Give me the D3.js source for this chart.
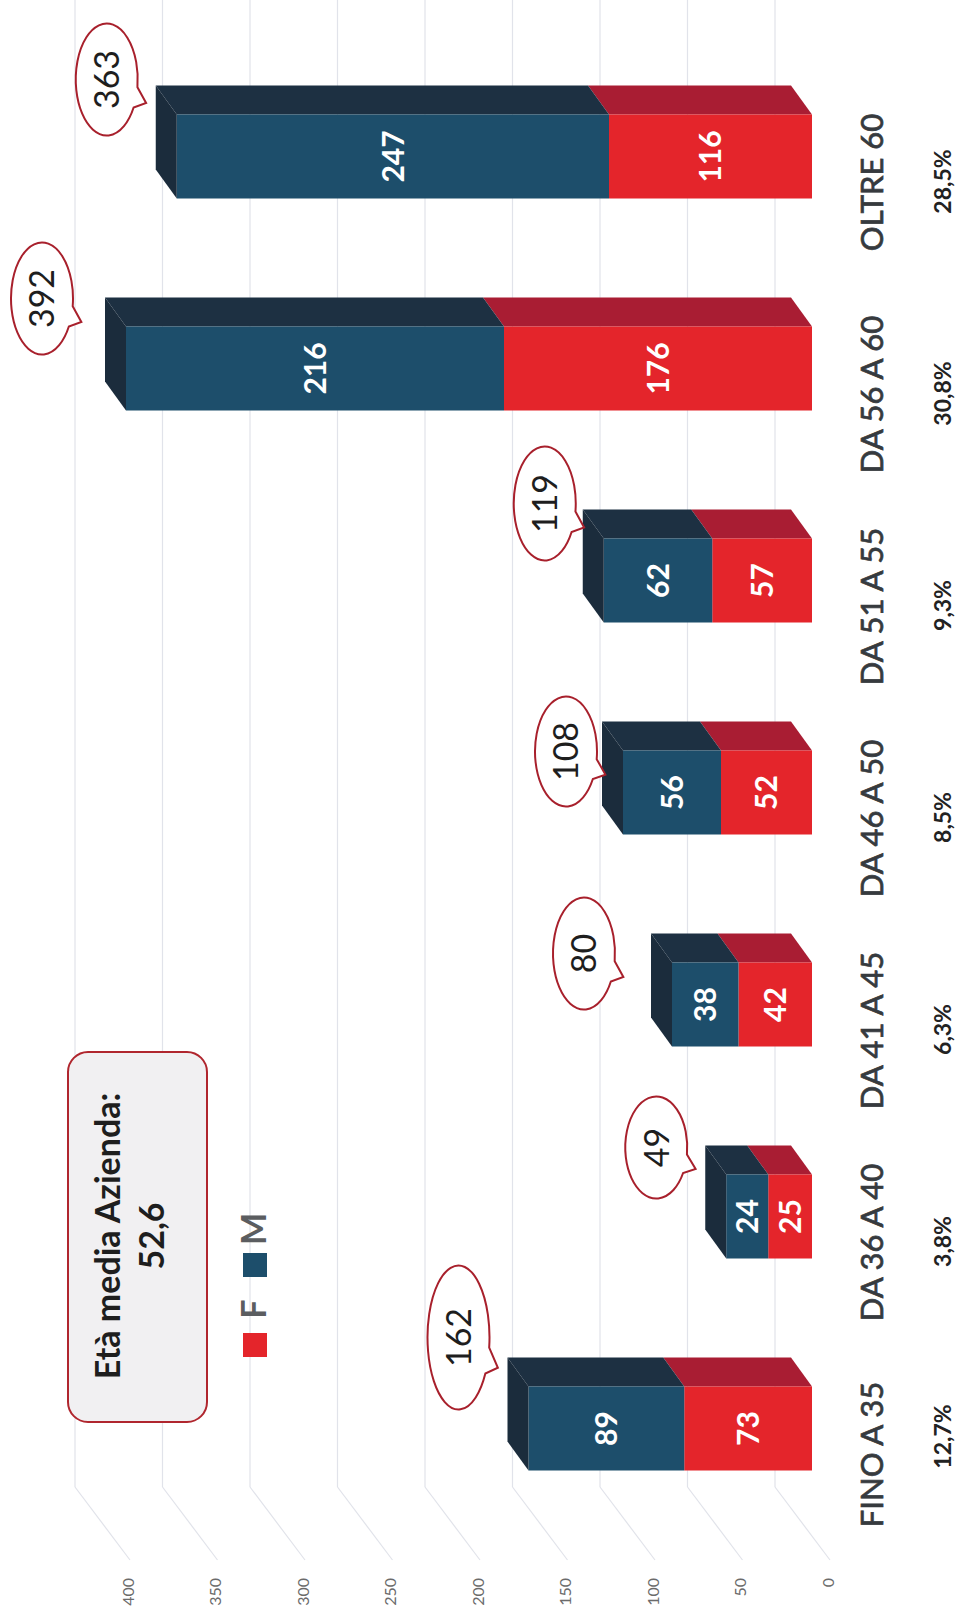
<!DOCTYPE html>
<html>
<head>
<meta charset="utf-8">
<script src="https://cdnjs.cloudflare.com/ajax/libs/d3/7.8.5/d3.min.js"></script>
<style>
  body { margin: 0; background: #fff; }
  svg { display: block; font-family: Lato, "Open Sans", sans-serif; }
</style>
</head>
<body>
<svg id="chart" width="960" height="1617"></svg>
<script>
const categories = ["FINO A 35", "DA 36 A 40", "DA 41 A 45", "DA 46 A 50", "DA 51 A 55", "DA 56 A 60", "OLTRE 60"];
const femmine = [73, 25, 42, 52, 57, 176, 116];
const maschi = [89, 24, 38, 56, 62, 216, 247];
const totali = [162, 49, 80, 108, 119, 392, 363];
const percentuali = ["12,7%", "3,8%", "6,3%", "8,5%", "9,3%", "30,8%", "28,5%"];
const ticks = [0, 50, 100, 150, 200, 250, 300, 350, 400];
const etaMedia = "52,6";

// callout nudges (hand placed in the original): [dx, dy, ry]
const callouts = [[-49, -20, 72], [-49, 2, 51], [-67, 20, 56], [-36, 30, 55], [-38, -6, 57], [-63, 1, 56], [-49, -6, 56]];
// the first percentage sits a bit higher than the others
const pctNudge = [-17, 0, 0, 0, 0, 0, 0];

const COLORS = {
    F: "#e4252b", Ftop: "#a91d33",
    M: "#1d4e6b", Mtop: "#1d3042", Mcap: "#1b2c3c",
    grid: "#e1e3ea"
};

const svg = d3.select("#chart");

// the chart is printed turned on its side: values grow to the left, categories go up
let x = d3.scaleLinear().domain([0, 400]).range([812, 112]);
let y = d3.scalePoint().domain(categories).range([1428.5, 156.5]);

const barW = 84;
const depth = { dx: -21, dy: -29 };
const wallShift = -37;      // back wall offset from bar front
const wallBottom = 1487;
const sideFront = 1560;

function rotText(sel, px, py) {
    return sel.attr("transform", (d, i) => "translate(" + px(d, i) + "," + py(d, i) + ") rotate(-90)");
}

// back wall gridlines + side wall diagonals
let grid = svg.append("g").attr("class", "grid")
    .attr("stroke", COLORS.grid).attr("stroke-width", 1.2).attr("fill", "none");

grid.selectAll(".wall")
    .data(ticks)
    .enter()
    .append("line")
    .attr("x1", (d) => x(d) + wallShift)
    .attr("x2", (d) => x(d) + wallShift)
    .attr("y1", 0)
    .attr("y2", wallBottom);

grid.selectAll(".side")
    .data(ticks)
    .enter()
    .append("line")
    .attr("x1", (d) => x(d) + wallShift)
    .attr("y1", wallBottom)
    .attr("x2", (d) => x(d) + 18)
    .attr("y2", sideFront);

// value axis labels
svg.append("g").selectAll("text")
    .data(ticks)
    .enter()
    .append("text")
    .call(rotText, (d) => x(d) + 16, () => 1578)
    .attr("text-anchor", "end")
    .attr("dy", "0.35em")
    .style("font-size", "16px")
    .style("fill", "#6b6b6b")
    .text((d) => d);

// bars
let rows = categories.map((c, i) => ({
    cat: c, i: i, tot: totali[i],
    segs: [
        { key: "F", v0: 0, v1: femmine[i] },
        { key: "M", v0: femmine[i], v1: femmine[i] + maschi[i] }
    ]
}));

let bars = svg.selectAll(".bar")
    .data(rows)
    .enter()
    .append("g")
    .attr("class", "bar");

function pts(a) { return a.map((p) => p.join(",")).join(" "); }

bars.each(function(r) {
    let g = d3.select(this);
    let yt = y(r.cat) - barW / 2, yb = y(r.cat) + barW / 2;

    g.selectAll(".top")
        .data(r.segs)
        .enter()
        .append("polygon")
        .attr("points", (s) => pts([
            [x(s.v1), yt], [x(s.v0), yt],
            [x(s.v0) + depth.dx, yt + depth.dy], [x(s.v1) + depth.dx, yt + depth.dy]
        ]))
        .style("fill", (s) => COLORS[s.key + "top"]);

    g.selectAll(".front")
        .data(r.segs)
        .enter()
        .append("rect")
        .attr("x", (s) => x(s.v1))
        .attr("y", yt)
        .attr("width", (s) => x(s.v0) - x(s.v1))
        .attr("height", barW)
        .style("fill", (s) => COLORS[s.key]);

    let xe = x(r.segs[1].v1);
    g.append("polygon")
        .attr("points", pts([
            [xe, yt], [xe + depth.dx, yt + depth.dy],
            [xe + depth.dx, yb + depth.dy], [xe, yb]
        ]))
        .style("fill", COLORS.Mcap);

    g.selectAll(".label")
        .data(r.segs)
        .enter()
        .append("text")
        .call(rotText, (s) => (x(s.v0) + x(s.v1)) / 2, () => y(r.cat))
        .attr("text-anchor", "middle")
        .attr("dy", "0.36em")
        .style("font-size", "30px")
        .style("font-weight", "bold")
        .style("fill", "white")
        .text((s) => s.v1 - s.v0);
});

// total callouts
let bubble = svg.selectAll(".callout")
    .data(rows)
    .enter()
    .append("g")
    .attr("class", "callout")
    .attr("transform", (r) => {
        let c = callouts[r.i];
        let cx = x(r.tot) + depth.dx + c[0];
        let cy = y(r.cat) - barW / 2 + depth.dy + c[1];
        return "translate(" + cx + "," + cy + ")";
    });

bubble.append("path")
    .attr("d", (r) => {
        let rx = 31, ry = callouts[r.i][2];
        let a1 = 30 * Math.PI / 180, a2 = 8 * Math.PI / 180;
        return "M" + rx * Math.cos(a1) + "," + ry * Math.sin(a1) +
            " A" + rx + "," + ry + " 0 1 1 " + rx * Math.cos(a2) + "," + ry * Math.sin(a2) +
            " L" + rx * 1.27 + "," + ry * 0.42 + " Z";
    })
    .style("fill", "white")
    .style("stroke", "#a8202c")
    .style("stroke-width", 2);

bubble.append("text")
    .attr("transform", "rotate(-90)")
    .attr("text-anchor", "middle")
    .attr("dy", "0.36em")
    .style("font-size", "34px")
    .style("fill", "#1e1e1e")
    .text((r) => r.tot);

// category axis and percentages
svg.append("g").selectAll("text")
    .data(categories)
    .enter()
    .append("text")
    .call(rotText, () => 872, (d) => y(d) + 26)
    .attr("text-anchor", "middle")
    .attr("dy", "0.36em")
    .style("font-size", "31px")
    .style("fill", "#363a3e")
    .style("stroke", "#363a3e")
    .style("stroke-width", 0.7)
    .text((d) => d);

svg.append("g").selectAll("text")
    .data(percentuali)
    .enter()
    .append("text")
    .call(rotText, () => 943, (d, i) => y(categories[i]) + 25 + pctNudge[i])
    .attr("text-anchor", "middle")
    .attr("dy", "0.36em")
    .style("font-size", "23px")
    .style("font-weight", "bold")
    .style("fill", "#222")
    .text((d) => d);

// legend
let legend = svg.append("g").selectAll("g")
    .data([{ key: "F", y: 1345 }, { key: "M", y: 1265 }])
    .enter()
    .append("g");

legend.append("rect")
    .attr("x", 243)
    .attr("y", (d) => d.y - 12)
    .attr("width", 24)
    .attr("height", 24)
    .style("fill", (d) => COLORS[d.key]);

legend.append("text")
    .call(rotText, () => 254, (d) => d.y - 36)
    .attr("text-anchor", "middle")
    .attr("dy", "0.36em")
    .style("font-size", "34px")
    .style("font-weight", "bold")
    .style("fill", "#5b5d60")
    .text((d) => d.key);

// average age box
let box = svg.append("g");
box.append("rect")
    .attr("x", 68)
    .attr("y", 1052)
    .attr("width", 139)
    .attr("height", 370)
    .attr("rx", 20)
    .style("fill", "#f1f0f2")
    .style("stroke", "#b0262e")
    .style("stroke-width", 2);

box.selectAll("text")
    .data(["Età media Azienda:", etaMedia])
    .enter()
    .append("text")
    .call(rotText, (d, i) => 108 + i * 44, () => 1236)
    .attr("text-anchor", "middle")
    .attr("dy", "0.36em")
    .style("font-size", "34px")
    .style("font-weight", "bold")
    .style("fill", "#1e1e1e")
    .text((d) => d);
</script>
</body>
</html>
